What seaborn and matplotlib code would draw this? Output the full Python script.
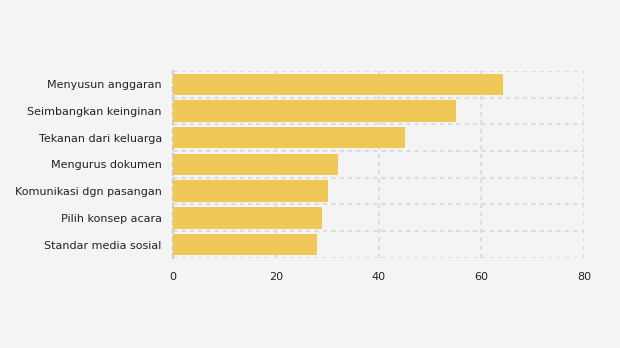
import matplotlib
matplotlib.use("Agg")
import matplotlib.pyplot as plt
import seaborn as sns
import pandas as pd
import numpy as np

categories = ["Menyusun anggaran", "Seimbangkan keinginan", "Tekanan dari keluarga",
              "Mengurus dokumen", "Komunikasi dgn pasangan", "Pilih konsep acara",
              "Standar media sosial"]
values = [64.2, 55.1, 45.2, 32.1, 30.2, 29.0, 28.0]
x_ticks = [0, 20, 40, 60, 80]

df = pd.DataFrame({"cat": categories, "val": values})

sns.set_theme(style="white")
plt.rcParams['font.family'] = ['DejaVu Sans']

fig = plt.figure(figsize=(6.2, 3.48), dpi=100, facecolor="#f4f4f4")
ax = fig.add_axes([0.279, 0.259, 0.663, 0.537])
ax.set_facecolor("#f4f4f4")

sns.barplot(data=df, x="val", y="cat", color="#f0c64f", saturation=1, width=0.8,
            alpha=0.95, linewidth=0, edgecolor="none", ax=ax, zorder=3)

ax.set_xlim(0, 80)
ax.set_ylim(len(categories) - 0.5, -0.5)
ax.set_xticks(x_ticks)
ax.set_xticklabels([str(t) for t in x_ticks])
ax.set_yticks(np.arange(-0.5, len(categories), 1.0), minor=True)
ax.grid(False)
ax.grid(axis="x", which="major", color="#dcdcdc", linestyle=(0, (2, 2)), linewidth=1.5, zorder=0)
ax.grid(axis="y", which="minor", color="#dcdcdc", linestyle=(0, (2, 2)), linewidth=1.5, zorder=0)
for s in ["top", "right", "bottom"]:
    ax.spines[s].set_visible(False)
ax.spines["left"].set_color("#cccccc")
ax.spines["left"].set_linestyle((0, (2, 2)))
ax.spines["left"].set_linewidth(1.5)

ax.set_xlabel("")
ax.set_ylabel("")
ax.tick_params(axis="y", which="major", length=5, color="#dddddd", width=1, labelsize=8,
               labelcolor="#222222", pad=3)
ax.tick_params(axis="y", which="minor", length=0)
ax.tick_params(axis="x", length=0, labelsize=8, labelcolor="#222222", pad=10)

fig.savefig("out.png", dpi=100, facecolor="#f4f4f4")
